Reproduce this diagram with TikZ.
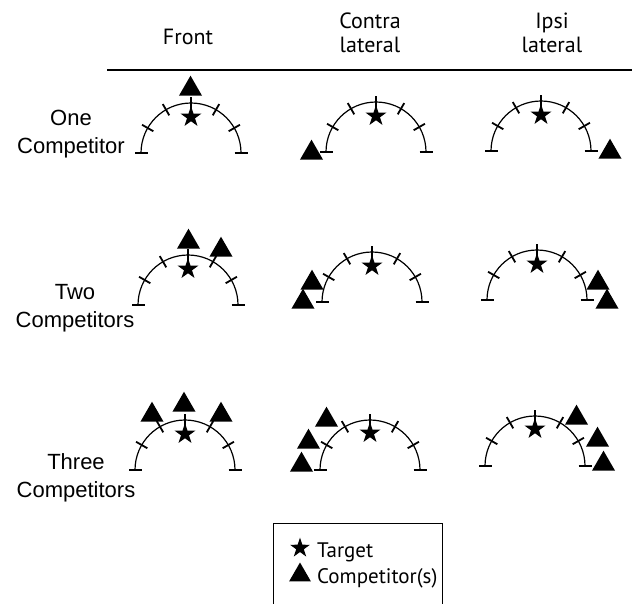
\documentclass[tikz,border=0pt]{standalone}
\usepackage{fontspec}
\setmainfont{Liberation Sans}
\newfontfamily\hdfont{PT Sans}
\usetikzlibrary{shapes.geometric}
\tikzset{
  arcline/.style={line width=1.2pt},
  tickline/.style={line width=1.8pt},
  halfarc/.pic={
    \draw[arcline] (-50,0) arc (180:360:50);
    \foreach \a in {180,210,...,360} \draw[tickline] (\a:43.5) -- (\a:56.5);
  },
  tgt/.style={star, star points=5, star point ratio=2.6, fill=black, draw=none, minimum size=22pt, inner sep=0pt},
  comp/.style={regular polygon, regular polygon sides=3, fill=black, draw=none, minimum size=26.6pt, inner sep=0pt},
  hd/.style={font=\hdfont\fontsize{22}{24}\selectfont, align=center, inner sep=0pt, anchor=base},
  rowlab/.style={font=\fontsize{22}{28}\selectfont, align=center, inner sep=0pt, anchor=base},
  legtext/.style={font=\hdfont\fontsize{21}{24}\selectfont, anchor=base west, inner sep=0pt},
}
\begin{document}
\begin{tikzpicture}[x=1pt,y=-1pt]
\useasboundingbox (0,0) rectangle (632,603);
% header
\node[hd] (hfront) at (188,44) {Front};
\node[hd] (hcontra) at (370,52) {Contra\\lateral};
\node[hd] (hipsi) at (552,52) {Ipsi\\lateral};
\coordinate (rl) at (107,70);
\coordinate (rr) at (632,70);
\draw[line width=2.5pt] (rl) -- (rr);
% row labels
\node[rowlab] (r1) at (71,153) {One\\Competitor};
\node[rowlab] (r2) at (75,327) {Two\\Competitors};
\node[rowlab] (r3) at (76,497) {Three\\Competitors};
% row 1
\pic at (191,153) {halfarc};
\pic at (376,152) {halfarc};
\pic at (541,151) {halfarc};
\node[tgt] (s11) at (191,117) {};
\node[tgt] (s12) at (376,116) {};
\node[tgt] (s13) at (541,115) {};
\node[comp] (c11) at (190.5,89) {};
\node[comp] (c12) at (311.5,153) {};
\node[comp] (c13) at (610,152) {};
% row 2
\pic at (188,305) {halfarc};
\pic at (372,302) {halfarc};
\pic at (537,300) {halfarc};
\node[tgt] (s21) at (188,269) {};
\node[tgt] (s22) at (372,266) {};
\node[tgt] (s23) at (537,264) {};
\node[comp] (c21a) at (188.5,242) {};
\node[comp] (c21b) at (221,250) {};
\node[comp] (c22a) at (312,283) {};
\node[comp] (c22b) at (303,302) {};
\node[comp] (c23a) at (598,283) {};
\node[comp] (c23b) at (607,302) {};
% row 3
\pic at (185,470) {halfarc};
\pic at (370,470) {halfarc};
\pic at (535,466) {halfarc};
\node[tgt] (s31) at (185,434) {};
\node[tgt] (s32) at (370,433) {};
\node[tgt] (s33) at (535,429) {};
\node[comp] (c31a) at (152,415) {};
\node[comp] (c31b) at (184,405) {};
\node[comp] (c31c) at (221,415) {};
\node[comp] (c32a) at (326.5,420) {};
\node[comp] (c32b) at (308.5,442) {};
\node[comp] (c32c) at (301.5,465) {};
\node[comp] (c33a) at (576.5,418) {};
\node[comp] (c33b) at (597.5,440) {};
\node[comp] (c33c) at (603.5,464) {};
% legend
\coordinate (lbl) at (273,605);
\coordinate (ltl) at (273,523);
\coordinate (ltr) at (442,523);
\coordinate (lbr) at (442,605);
\draw[line width=0.8pt] (lbl) -- (ltl) -- (ltr) -- (lbr);
\node[tgt, minimum size=21pt] (ls) at (300,548) {};
\node[comp, minimum size=25pt] (lc) at (300,575) {};
\node[legtext] (lt1) at (317,557) {Target};
\node[legtext] (lt2) at (317,583) {Competitor(s)};
\end{tikzpicture}
\end{document}
